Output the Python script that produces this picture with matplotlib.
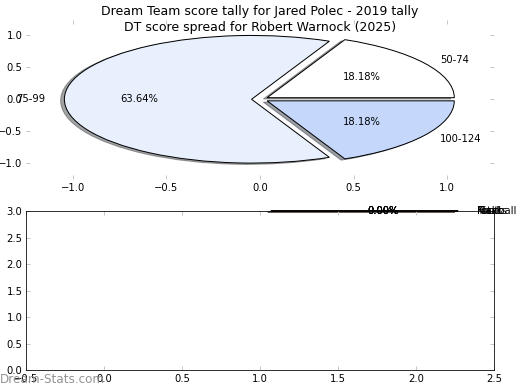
import matplotlib
matplotlib.use("Agg")
import matplotlib.pyplot as plt

# score bands for the top pie
bands = ["50-74", "75-99", "100-124"]
band_counts = [2, 7, 2]
band_colors = ["#ffffff", "#e9f0fd", "#c5d8fc"]

# empty second pie (all zero)
cats = ["Total", "Kicks", "Marks", "Football"]
cat_values = [0, 0, 0, 0]

plt.rcParams["font.size"] = 10

fig, (ax1, ax2) = plt.subplots(2, 1, figsize=(520 / 72, 390 / 72), dpi=72)
fig.subplots_adjust(left=0.05, right=0.95, top=0.95, bottom=0.05, hspace=0.2)

# top pie
ax1.pie(band_counts, labels=bands, colors=band_colors, autopct="%1.2f%%",
        explode=[0.045, 0.045, 0.045], shadow=True, frame=True,
        wedgeprops={"edgecolor": "black", "linewidth": 1})
ax1.set_aspect("auto")
ax1.set_xlim(-1.25, 1.25)
ax1.set_ylim(-1.25, 1.25)
ax1.set_xticks([-1.0, -0.5, 0.0, 0.5, 1.0])
ax1.set_yticks([-1.0, -0.5, 0.0, 0.5, 1.0])
for s in ax1.spines.values():
    s.set_visible(False)
ax1.set_title("Dream Team score tally for Jared Polec - 2019 tally\n"
              "DT score spread for Robert Warnock (2025)", fontsize=12.5, pad=-11)

# bottom pie, degenerate
ax2.pie(cat_values, labels=cats, autopct="%1.2f%%", normalize=False,
        center=(1.07, 3.0), radius=1.2, shadow=True, frame=True,
        wedgeprops={"edgecolor": "black", "linewidth": 1})
ax2.set_aspect("auto")
ax2.set_xlim(-0.5, 2.5)
ax2.set_ylim(0, 3)
ax2.set_xticks([-0.5, 0.0, 0.5, 1.0, 1.5, 2.0, 2.5])
ax2.set_yticks([0.0, 0.5, 1.0, 1.5, 2.0, 2.5, 3.0])
for s in ax2.spines.values():
    s.set_color("black")

for ax in (ax1, ax2):
    ax.tick_params(direction="in", color="#c8c8c8", length=4, width=1,
                   top=True, right=True, labelsize=10)

fig.text(0.0, 0.018, "Dream-Stats.com", fontsize=12, color="#888888",
         fontweight="medium", alpha=0.9, zorder=0)

fig.savefig("out.png", dpi=72)
